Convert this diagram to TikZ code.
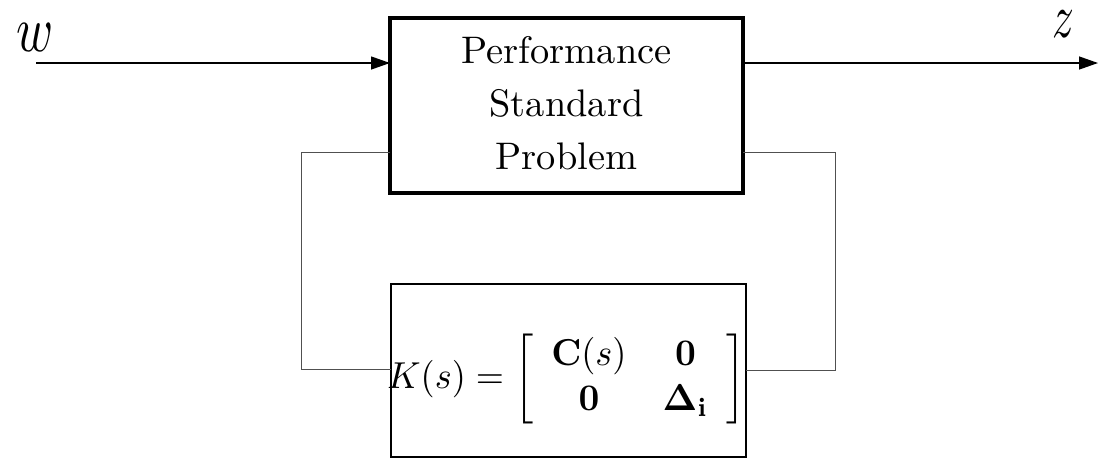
\documentclass[tikz,border=0pt]{standalone}
\usetikzlibrary{arrows.meta}
\definecolor{fbgray}{HTML}{505050}
\tikzset{
  blockA/.style={draw=black, line width=3.3pt, minimum width=353pt, minimum height=175pt, inner sep=0pt, outer sep=0pt},
  blockB/.style={draw=black, line width=2pt, minimum width=355pt, minimum height=173pt, inner sep=0pt, outer sep=0pt},
  sig/.style={line width=1.3pt, -{Triangle[length=19pt,width=13pt]}},
  fb/.style={draw=fbgray, line width=1pt},
  lbl/.style={inner sep=0pt}
}
\begin{document}
\begin{tikzpicture}[x=1pt,y=-1pt]
\useasboundingbox (0,0) rectangle (1105,459);
\node[blockA] (plant) at (566.5,105.5)
  {\scalebox{3.84}{\def\arraystretch{1.15}\begin{tabular}{@{}c@{}}Performance\\Standard\\Problem\end{tabular}}};
\node[blockB] (ctrl) at (568.5,370.5) {};
\node[lbl] (kmat) at (566.5,379)
  {\scalebox{3.62}[3.75]{$K(s)=\left[\begin{array}{cc}\mathbf{C}(s) & \mathbf{0}\\ \mathbf{0} & \mathbf{\Delta}_{\mathbf{i}}\end{array}\right]$}};
\node[lbl] (wl) at (35,37.5) {\scalebox{5}[6.5]{$w$}};
\node[lbl] (zl) at (1063,24) {\scalebox{4.3}[6.2]{$z$}};
\coordinate (win) at (36,63);
\coordinate (zout) at (1098,63);
\coordinate (fl1) at (301,152);
\coordinate (fl2) at (301,369);
\coordinate (fr1) at (835,152);
\coordinate (fr2) at (835,370);
\draw[sig] (win) -- (win -| plant.west);
\draw[sig] (zout -| plant.east) -- (zout);
\draw[fb] (fl1 -| plant.west) -- (fl1) -- (fl2) -- (fl2 -| ctrl.west);
\draw[fb] (fr1 -| plant.east) -- (fr1) -- (fr2) -- (fr2 -| ctrl.east);
\end{tikzpicture}
\end{document}
